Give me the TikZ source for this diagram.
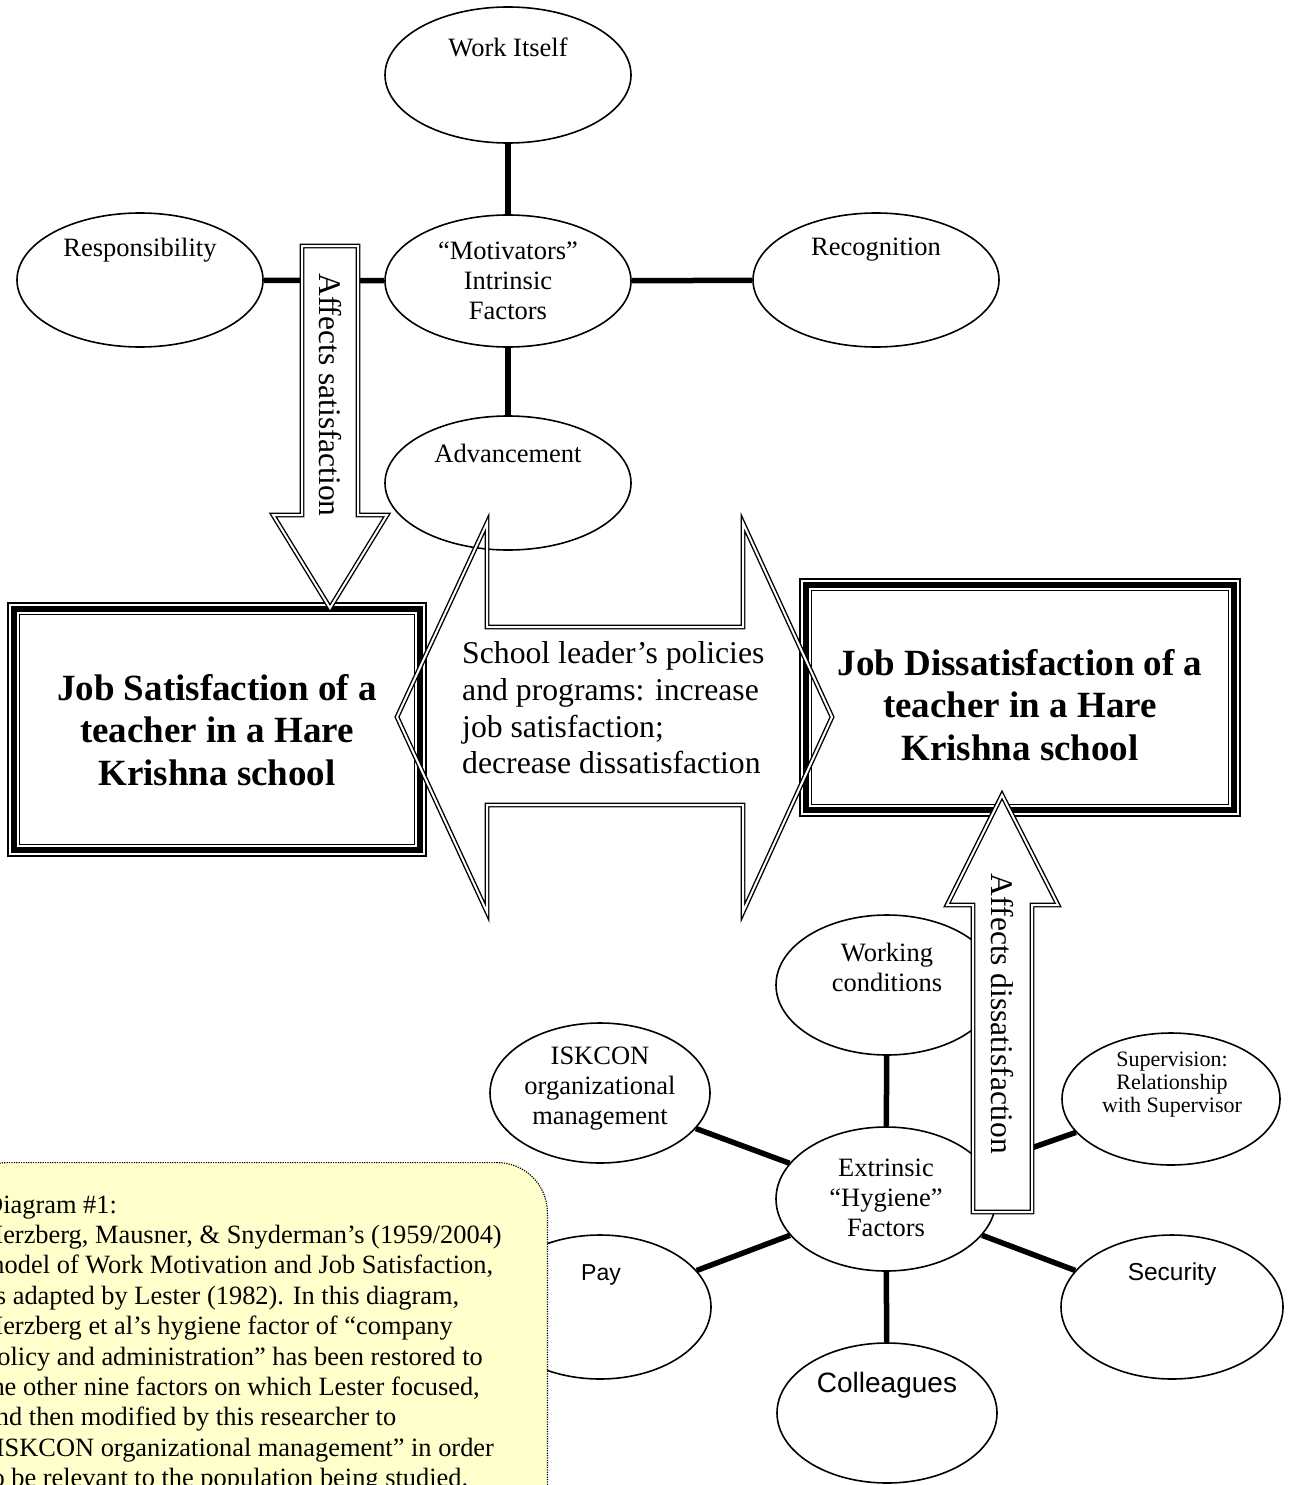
\documentclass[tikz,border=0pt]{standalone}
\usepackage{fontspec}
\setmainfont{Liberation Serif}
\newfontfamily\arialf{Liberation Sans}
\usetikzlibrary{shapes.geometric}
\definecolor{notey}{RGB}{255,255,204}
\newcommand{\tripleborder}[1]{%
  \draw[line width=2.5pt] ([shift={(1.25,1.25)}]#1.north west) rectangle ([shift={(-1.25,-1.25)}]#1.south east);
  \draw[line width=5.5pt] ([shift={(7.25,7.25)}]#1.north west) rectangle ([shift={(-7.25,-7.25)}]#1.south east);
  \draw[line width=1.5pt] ([shift={(12.75,12.75)}]#1.north west) rectangle ([shift={(-12.75,-12.75)}]#1.south east);}
\begin{document}
\begin{tikzpicture}[x=1pt,y=-1pt,
  ell/.style={draw, ellipse, line width=1.6pt, inner sep=0pt, fill=white},
  conn/.style={line width=5.5pt},
  etxt/.style={font=\fontsize{26.5}{30}\selectfont, align=center, inner sep=0pt},
  stxt/.style={font=\arialf\fontsize{#1}{#1}\selectfont, inner sep=0pt},
  boxtxt/.style={font=\fontsize{37}{42.5}\selectfont\bfseries, align=center, inner sep=0pt},
  blockarrow/.style={draw, line width=1.4pt, double=white, double distance=2pt, line join=miter},
  notetxt/.style={font=\fontsize{26.4}{30.4}\selectfont, inner sep=0pt, anchor=base west},
]
\useasboundingbox (0,0) rectangle (1293,1485);
\clip (0,0) rectangle (1293,1485);
\fill[white] (0,0) rectangle (1293,1485);

% ---- motivators cluster
\node[ell, minimum width=246, minimum height=136] (work) at (508,75) {};
\node[ell, minimum width=246, minimum height=132] (motiv) at (508,281) {};
\node[ell, minimum width=246, minimum height=134] (resp) at (140,280) {};
\node[ell, minimum width=246, minimum height=134] (recog) at (876,280) {};
\node[ell, minimum width=246, minimum height=134] (adv) at (508,483) {};
\draw[conn] (work) -- (motiv);
\draw[conn] (motiv) -- (adv);
\draw[conn] (resp) -- (motiv);
\draw[conn] (motiv) -- (recog);
\node[etxt] (twork) at (508,47) {Work Itself};
\node[etxt] (tmotiv) at (508,281) {“Motivators”\\Intrinsic\\Factors};
\node[etxt] (tresp) at (140,250) {Responsibility};
\node[etxt] (trecog) at (876,250) {Recognition};
\node[etxt] (tadv) at (508,453) {Advancement};

% ---- hygiene cluster
\node[ell, minimum width=222, minimum height=140] (workc) at (887,985) {};
\node[ell, minimum width=220, minimum height=140] (isk) at (600,1093) {};
\node[ell, minimum width=218, minimum height=132] (sup) at (1171,1099) {};
\node[ell, minimum width=220, minimum height=144] (ext) at (886,1199) {};
\node[ell, minimum width=222, minimum height=144] (pay) at (600,1307) {};
\node[ell, minimum width=222, minimum height=144] (sec) at (1172,1307) {};
\node[ell, minimum width=220, minimum height=140] (col) at (887,1413) {};
\draw[conn] (workc) -- (ext);
\draw[conn] (isk) -- (ext);
\draw[conn] (sup) -- (ext);
\draw[conn] (pay) -- (ext);
\draw[conn] (sec) -- (ext);
\draw[conn] (col) -- (ext);
\node[etxt] (tworkc) at (887,967) {Working\\conditions};
\node[etxt] (tisk) at (600,1089) {ISKCON\\organizational\\management};
\node[etxt, font=\fontsize{22}{23}\selectfont] (tsup) at (1172,1085) {Supervision:\\Relationship\\with Supervisor};
\node[etxt] (text) at (886,1198) {Extrinsic\\“Hygiene”\\Factors};
\node[stxt=23] (tpay) at (601,1275) {Pay};
\node[stxt=24.5] (tsec) at (1172,1274) {Security};
\node[stxt=28] (tcol) at (887,1385) {Colleagues};

% ---- boxes
\node[minimum width=420, minimum height=255, inner sep=0pt, fill=white] (lbox) at (217,729.5) {};
\tripleborder{lbox}
\node[boxtxt] (tlbox) at (217,730) {Job Satisfaction of a\\teacher in a Hare\\Krishna school};
\node[minimum width=442, minimum height=239, inner sep=0pt, fill=white] (rbox) at (1020,697.5) {};
\tripleborder{rbox}
\node[boxtxt] (trbox) at (1020,705) {Job Dissatisfaction of a\\teacher in a Hare\\Krishna school};

% ---- double arrow (unfilled)
\draw[blockarrow] (397,717) -- (487,523) -- (487,627) -- (743,627) -- (743,523) -- (832,717)
  -- (743,912) -- (743,805) -- (487,805) -- (487,912) -- cycle;
\node[font=\fontsize{31.7}{36.7}\selectfont, align=left, anchor=west, inner sep=0pt] (tmid) at (462,708)
  {School leader’s policies\\and programs: increase\\job satisfaction;\\decrease dissatisfaction};

% ---- vertical arrows
\draw[blockarrow, fill=white] (302,246) -- (358,246) -- (358,515) -- (387,515) -- (330,608)
  -- (273,515) -- (302,515) -- cycle;
\node[rotate=-90, font=\fontsize{31.5}{36}\selectfont, inner sep=0pt] (tas) at (330,395) {Affects satisfaction};
\draw[blockarrow, fill=white] (973,1212) -- (1032,1212) -- (1032,905) -- (1058,905) -- (1002,795)
  -- (947,905) -- (973,905) -- cycle;
\node[rotate=-90, font=\fontsize{31.5}{36}\selectfont, inner sep=0pt] (tad) at (1002,1014) {Affects dissatisfaction};

% ---- note
\node[draw, fill=notey, rounded corners=50pt, dash pattern=on 1.2pt off 1.2pt, line width=1.2pt,
  minimum width=590, minimum height=400, anchor=north east, inner sep=0pt] (note) at (548,1162) {};
\foreach \t [count=\i] in {{Diagram \#1:},
  {Herzberg, Mausner, \& Snyderman’s (1959/2004)},
  {model of Work Motivation and Job Satisfaction,},
  {as adapted by Lester (1982). In this diagram,},
  {Herzberg et al’s hygiene factor of “company},
  {policy and administration” has been restored to},
  {the other nine factors on which Lester focused,},
  {and then modified by this researcher to},
  {“ISKCON organizational management” in order},
  {to be relevant to the population being studied.}}
  \node[notetxt] (note\i) at (-16,{1213+(\i-1)*30.4}) {\t};
\end{tikzpicture}
\end{document}
